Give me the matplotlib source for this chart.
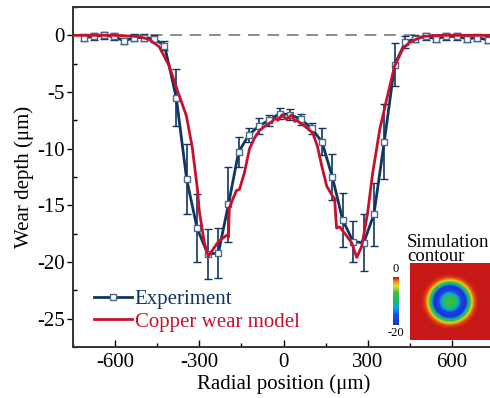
import numpy as np
import matplotlib
matplotlib.use("Agg")
import matplotlib.pyplot as plt
from matplotlib.ticker import MultipleLocator
from matplotlib.colors import LinearSegmentedColormap
from matplotlib.lines import Line2D

plt.rcParams['font.family'] = ['Liberation Serif', 'DejaVu Serif']

# measured wear profile (markers + error bars)
exp_x = [-712, -676, -640, -604, -568, -532, -496, -460, -424, -382,
         -345, -308, -270, -232, -196, -160, -124, -88, -52, -14,
         24, 62, 100, 137, 174, 211, 248, 286, 322, 359,
         396, 434, 470, 506, 543, 580, 617, 654, 691, 728]
exp_y = [-0.2, -0.1, 0.0, -0.1, -0.5, -0.2, -0.2, -0.3, -0.9, -5.5,
         -12.7, -17.0, -19.3, -19.2, -14.9, -10.3, -8.8, -8.0, -7.5, -6.9,
         -7.0, -7.4, -8.2, -9.4, -12.5, -16.3, -18.2, -18.3, -15.8, -9.4,
         -2.6, -0.6, -0.3, -0.1, -0.3, -0.1, -0.1, -0.3, -0.2, -0.4]
exp_err = [0.3, 0.3, 0.3, 0.3, 0.3, 0.3, 0.3, 0.3, 0.4, 2.5,
           3.1, 3.0, 2.2, 2.2, 3.3, 1.3, 0.6, 0.7, 0.5, 0.5,
           0.5, 0.5, 0.5, 1.2, 2.0, 2.4, 1.8, 2.5, 2.8, 3.3,
           1.9, 0.5, 0.3, 0.3, 0.3, 0.3, 0.3, 0.3, 0.3, 0.3]

# copper wear model profile
mod_x = [-750, -600, -520, -479, -443, -407, -379, -346, -325, -307,
         -300, -282, -268, -246, -232, -211, -200, -196, -193, -168,
         -157, -139, -121, -104, -86, -60, -40, -30, -20, -5,
         10, 21, 30, 40, 46, 75, 104, 121, 136, 154,
         175, 182, 189, 200, 225, 243, 261, 279, 300, 318,
         343, 368, 396, 425, 450, 496, 550, 750]
mod_y = [0.0, 0.0, -0.1, -0.35, -1.0, -2.7, -4.8, -7.1, -9.9, -13.5,
         -15.5, -18.3, -19.5, -18.7, -18.2, -17.8, -17.6, -17.8, -15.2, -13.7,
         -13.6, -12.1, -10.0, -9.1, -8.4, -7.9, -7.6, -7.3, -7.5, -7.0,
         -7.4, -7.2, -7.0, -7.6, -7.5, -8.0, -8.6, -9.8, -11.5, -13.3,
         -14.2, -14.4, -17.0, -16.9, -17.7, -18.3, -19.6, -18.6, -15.6, -12.1,
         -8.3, -5.6, -2.7, -1.2, -0.6, -0.1, 0.0, 0.0]

navy = '#0f3560'
red = '#c8102e'

fig = plt.figure(figsize=(4.9, 3.98), dpi=100)
ax = fig.add_axes([73/490, 51/398, 421/490, 340/398])

ax.axhline(0, color='#8c8c8c', lw=1.4, ls=(0, (6, 4)), zorder=1)
ax.errorbar(exp_x, exp_y, yerr=exp_err, color=navy, lw=2, elinewidth=1.2,
            capsize=3, capthick=1.2, marker='s', ms=4.5, mfc='white',
            mec='#4a6a8a', mew=1, zorder=3)
ax.plot(mod_x, mod_y, color=red, lw=2, zorder=4)

ax.set_xlim(-750, 750)
ax.set_ylim(-27.5, 2.5)
ax.xaxis.set_major_locator(MultipleLocator(300))
ax.xaxis.set_minor_locator(MultipleLocator(150))
ax.yaxis.set_major_locator(MultipleLocator(5))
ax.yaxis.set_minor_locator(MultipleLocator(2.5))
ax.tick_params(axis='x', which='major', direction='in', length=5, width=1,
               labelsize=15, pad=4)
ax.tick_params(axis='x', which='minor', direction='in', length=3, width=1)
ax.tick_params(axis='y', which='major', direction='out', length=4, width=1,
               labelsize=15, pad=2)
ax.tick_params(axis='y', which='minor', direction='in', length=3, width=1)
ax.xaxis.set_major_formatter(lambda v, p: f'{v:.0f}')
ax.yaxis.set_major_formatter(lambda v, p: f'{v:.0f}')
for s in ax.spines.values():
    s.set_linewidth(1.4)
    s.set_color('#333333')

ax.set_xlabel('Radial position (μm)', fontsize=15, labelpad=2)
ax.set_ylabel('Wear depth (μm)', fontsize=15, labelpad=2)

handles = [Line2D([], [], color=navy, lw=2, marker='s', ms=4.5, mfc='white',
                  mec='#4a6a8a', mew=1),
           Line2D([], [], color=red, lw=2)]
leg = ax.legend(handles, ['Experiment', 'Copper wear model'], loc='lower left',
                bbox_to_anchor=(0.05, 0.045), frameon=False, fontsize=15,
                handlelength=1.8, handletextpad=0.15, labelspacing=0.15,
                borderpad=0, borderaxespad=0)
for t, c in zip(leg.get_texts(), [navy, red]):
    t.set_color(c)

# simulation contour inset
cmap = LinearSegmentedColormap.from_list(
    'sim', [(0.0, '#1a2fd0'), (0.22, '#2050e0'), (0.35, '#00a8e8'),
            (0.5, '#20b860'), (0.68, '#40c040'), (0.82, '#e8e020'),
            (0.92, '#f08010'), (1.0, '#c81818')])
half = len(mod_x) // 2
g = np.linspace(-700, 700, 160)
gx, gy = np.meshgrid(g, g)
rr = np.hypot(gx, gy)
depth = np.interp(rr, np.abs(np.array(mod_x[half:])), mod_y[half:])
iax = fig.add_axes([410/490, 58/398, 80/490, 77/398])
iax.imshow(depth, cmap=cmap, vmin=-20, vmax=0, interpolation='bilinear',
           aspect='auto')
iax.axis('off')

cax = fig.add_axes([393/490, 73/398, 6/490, 48/398])
cax.imshow(np.linspace(0, -20, 100)[:, None], cmap=cmap, vmin=-20, vmax=0,
           aspect='auto')
cax.set_xticks([])
cax.set_yticks([])
for s in cax.spines.values():
    s.set_visible(False)
fig.text(396/490, 1 - 269/398, '0', fontsize=9, ha='center', va='center')
fig.text(396/490, 1 - 333/398, '-20', fontsize=9, ha='center', va='center')
fig.text(407/490, 1 - 234/398, 'Simulation\ncontour', fontsize=13.5,
         ha='left', va='top', linespacing=0.8)

fig.savefig('out.png', dpi=100)
